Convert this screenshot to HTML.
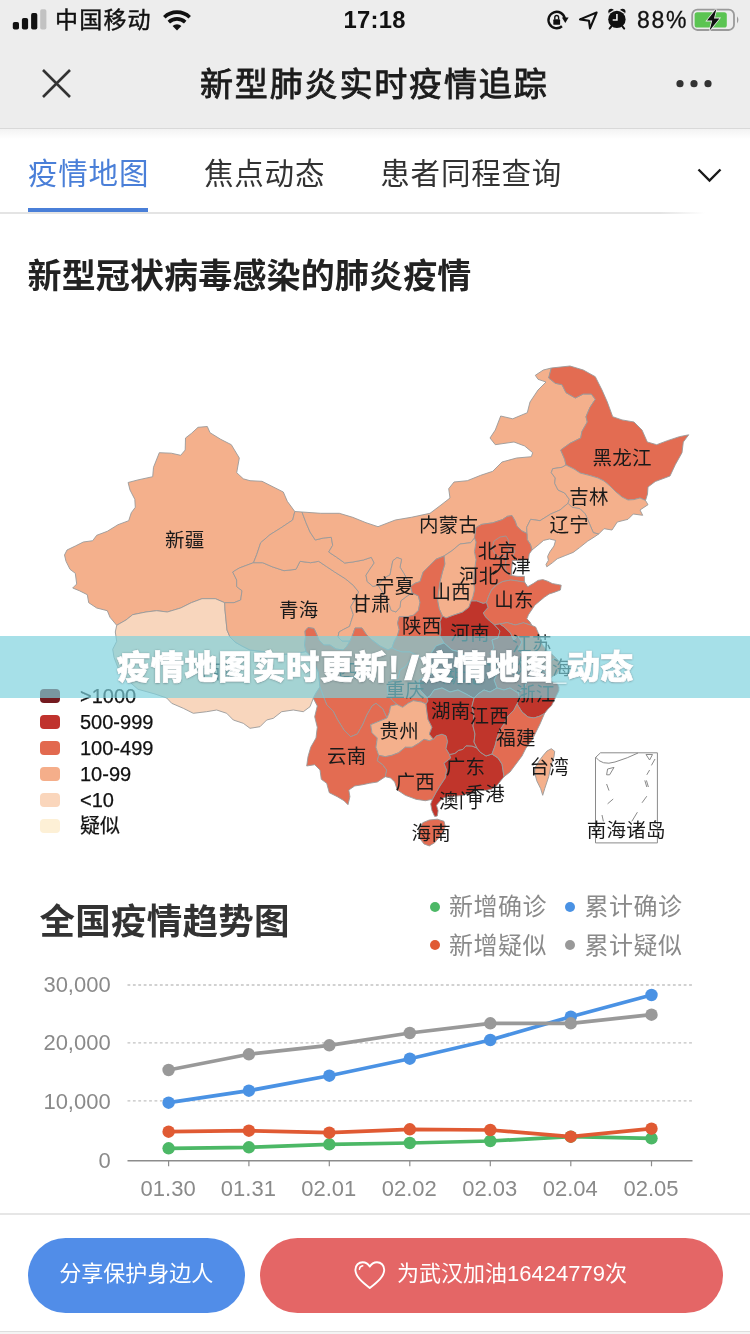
<!DOCTYPE html>
<html lang="zh-CN"><head><meta charset="utf-8"><title>新型肺炎实时疫情追踪</title>
<style>
html,body{margin:0;padding:0;}
body{width:750px;height:1334px;position:relative;overflow:hidden;background:#fff;font-family:"Liberation Sans","Noto Sans CJK SC",sans-serif;color:#222;}
.abs{position:absolute;white-space:nowrap;}
#top{left:0;top:0;width:750px;height:128px;background:#ededed;}
#topline{left:0;top:128px;width:750px;height:1px;background:#d9d9d9;}
#topshadow{left:0;top:129px;width:750px;height:10px;background:linear-gradient(#f3f3f3,#ffffff);}
.sb{font-size:23px;line-height:30px;color:#111;}
#navtitle{left:200px;top:63.3px;font-size:33px;letter-spacing:1.85px;line-height:44px;font-weight:400;-webkit-text-stroke:.9px #1c1c1c;color:#1c1c1c;}
.tab{font-size:29.5px;letter-spacing:.8px;line-height:40px;top:154.3px;color:#333;}
#tabline{left:28px;top:208px;width:120px;height:4px;background:#4a7fd8;}
#sep1{left:0;top:212px;width:750px;height:1.5px;background:linear-gradient(90deg,#e4e4e4 0,#e4e4e4 88%,#fff 94%);}
#h1{left:27.5px;top:251.5px;letter-spacing:.15px;font-size:34px;line-height:48px;font-weight:bold;color:#222;}
#h2{left:39.5px;top:897px;letter-spacing:.25px;font-size:35.5px;line-height:50px;font-weight:bold;color:#333;}
.lg{font-size:20px;line-height:26px;color:#111;left:80px;-webkit-text-stroke:.25px #111;}
.sw{left:40px;width:20px;height:14.5px;border-radius:4px;}
#banner{left:0;top:635.5px;width:750px;height:62.5px;background:rgba(124,209,221,0.68);}
#bantext{left:116.8px;top:637.3px;height:62.5px;line-height:62.5px;font-size:33.3px;font-weight:900;color:#fff;-webkit-text-stroke:.7px #fff;text-shadow:0 0 2px rgba(70,80,90,.55),0 1px 2px rgba(70,80,90,.35);}
.cl{font-size:24px;letter-spacing:.5px;line-height:32px;color:#8a8a8a;}
.dot{width:10px;height:10px;border-radius:5px;}
#sep2{left:0;top:1212.5px;width:750px;height:2px;background:#e6e6e6;}
#sep3{left:0;top:1331px;width:750px;height:3px;background:linear-gradient(#dedede 0,#dedede 34%,#f4f4f4 34%);}
.btn{top:1237.5px;height:75px;border-radius:37.5px;color:#fff;font-size:22px;line-height:72px;}
#b1{left:27.5px;width:217.5px;background:#518de8;text-align:center;}
#b2{left:260px;width:462.5px;background:#e46666;}
svg text{font-family:"Liberation Sans","Noto Sans CJK SC",sans-serif;}
#map text{font-size:19.5px;letter-spacing:.3px;fill:#1a1a1a;text-anchor:middle;}
.ax{font-size:22px;fill:#8a8a8a;}
</style></head><body>
<div id="top" class="abs"></div><div id="topline" class="abs"></div><div id="topshadow" class="abs"></div>

<!-- status bar -->
<svg class="abs" style="left:0;top:0" width="750" height="40" viewBox="0 0 750 40">
 <rect x="12.8" y="22" width="6.2" height="7.6" rx="1.8" fill="#111"/>
 <rect x="21.9" y="18" width="6.2" height="11.6" rx="1.8" fill="#111"/>
 <rect x="31.1" y="13.1" width="6.2" height="16.5" rx="1.8" fill="#111"/>
 <rect x="40.2" y="9.2" width="6.2" height="20.4" rx="1.8" fill="#c2c2c2"/>
 <!-- wifi -->
 <g fill="none" stroke="#111" stroke-width="3.6" stroke-linecap="butt">
  <path d="M164.3 17.2 A18.5 18.5 0 0 1 189.7 17.2"/>
  <path d="M168.8 22.1 A12 12 0 0 1 185.2 22.1"/>
 </g>
 <path d="M177 30.6 L172.6 26 A6.2 6.2 0 0 1 181.4 26 Z" fill="#111"/>
 <!-- rotation lock -->
 <path d="M561.97 26.28 A8.2 8.2 0 1 1 564.78 18.58" fill="none" stroke="#111" stroke-width="2.4"/>
 <path d="M561.9 17.4 L568.6 17.4 L565.3 22.9 Z" fill="#111"/>
 <rect x="553.3" y="19.3" width="6.8" height="5.5" rx="0.9" fill="#111"/>
 <path d="M554.8 19.6 v-2.2 a1.9 1.9 0 0 1 3.8 0 v2.2" fill="none" stroke="#111" stroke-width="1.4"/>
 <!-- location arrow -->
 <path d="M596.6 12.5 L580 19.4 L589 20.8 L590 28.4 Z" fill="none" stroke="#111" stroke-width="2.1" stroke-linejoin="round"/>
 <!-- alarm -->
 <circle cx="611.2" cy="11.6" r="2.9" fill="#111"/><circle cx="622.6" cy="11.6" r="2.9" fill="#111"/>
 <circle cx="616.9" cy="19.4" r="10" fill="#ededed"/>
 <path d="M611.6 26.2 L609.6 28.6 M622.2 26.2 L624.2 28.6" stroke="#111" stroke-width="2" stroke-linecap="round"/>
 <circle cx="616.9" cy="19.4" r="8.7" fill="#111"/>
 <path d="M616.9 14 v6 h-4.2" fill="none" stroke="#ededed" stroke-width="1.6"/>
 <!-- battery -->
 <rect x="692.2" y="9.6" width="41.8" height="20.4" rx="5.2" fill="none" stroke="#9a9a9a" stroke-width="1.8"/>
 <path d="M737 16.2 q2.8 3.7 0 7.4 Z" fill="#9a9a9a"/>
 <rect x="694.6" y="12.2" width="32.2" height="15.3" rx="2.6" fill="#5bc452"/>
 <path d="M716.4 8.8 L707 20.6 L712.2 20.6 L709.6 30.6 L719.4 18.4 L714 18.4 Z" fill="#111" stroke="#ededed" stroke-width="1.6" paint-order="stroke"/>
</svg>
<div class="abs sb" style="left:55px;top:5px;letter-spacing:1.2px;-webkit-text-stroke:.45px #111;">中国移动</div>
<div class="abs sb" style="left:343.5px;top:5px;font-weight:bold;font-size:23.8px;letter-spacing:.25px;">17:18</div>
<div class="abs sb" style="left:637px;top:5px;font-size:23px;letter-spacing:1.7px;-webkit-text-stroke:.3px #111;">88%</div>

<!-- nav -->
<svg class="abs" style="left:0;top:40px" width="750" height="88" viewBox="0 40 750 88">
 <path d="M43 70 L70 97 M70 70 L43 97" stroke="#333" stroke-width="2.6" fill="none"/>
 <circle cx="680" cy="83.7" r="3.6" fill="#333"/><circle cx="694" cy="83.7" r="3.6" fill="#333"/><circle cx="708" cy="83.7" r="3.6" fill="#333"/>
</svg>
<div id="navtitle" class="abs">新型肺炎实时疫情追踪</div>

<!-- tabs -->
<div class="abs tab" style="left:28px;color:#4a7fd8;">疫情地图</div>
<div class="abs tab" style="left:204px;">焦点动态</div>
<div class="abs tab" style="left:380.3px;">患者同程查询</div>
<svg class="abs" style="left:690px;top:160px" width="40" height="30" viewBox="690 160 40 30"><path d="M698.5 169.5 L709.5 180.5 L720.5 169.5" fill="none" stroke="#1a1a1a" stroke-width="2.4"/></svg>
<div id="tabline" class="abs"></div><div id="sep1" class="abs"></div>

<div id="h1" class="abs">新型冠状病毒感染的肺炎疫情</div>

<!-- map -->
<svg id="map" class="abs" style="left:0;top:340px" width="750" height="530" viewBox="0 340 750 530">
<g stroke="#9a9a9a" stroke-width="0.9" stroke-linejoin="round">
<polygon points="116.7,625.3 110.0,617.3 107.3,610.7 96.7,608.0 88.7,602.7 87.3,594.7 79.3,590.7 72.7,588.0 76.7,584.0 75.3,573.3 70.0,569.3 66.0,561.3 64.5,555.0 67.0,550.0 75.3,546.0 83.3,542.0 92.7,540.7 96.7,535.3 107.3,531.3 118.0,524.7 128.7,520.7 131.3,512.7 135.3,507.3 134.8,499.3 130.0,490.0 128.1,482.5 138.0,479.9 152.7,476.7 153.5,467.3 159.3,452.7 171.3,453.2 180.7,455.3 185.2,450.0 185.5,438.0 191.3,433.5 198.0,427.3 207.3,426.5 210.0,432.7 220.7,439.3 231.3,444.7 239.3,458.0 236.7,472.7 243.3,478.8 250.0,480.7 262.0,481.3 283.3,492.0 287.3,501.3 294.8,511.5 292.7,520.0 280.7,528.0 270.0,534.7 260.7,542.7 256.7,554.7 253.5,562.7 239.3,568.0 232.7,572.0 236.7,580.0 236.7,586.7 242.0,590.7 240.7,600.0 234.0,602.7 224.7,602.7 215.3,598.7 202.0,598.7 191.3,602.7 180.7,608.0 167.3,612.0 156.7,610.7 146.0,612.0 132.7,614.7 126.0,620.0" fill="#f4b08c"/>
<polygon points="116.7,625.3 126.0,620.0 132.7,614.7 146.0,612.0 156.7,610.7 167.3,612.0 180.7,608.0 191.3,602.7 202.0,598.7 215.3,598.7 224.7,602.7 225.0,610.0 226.0,620.0 227.0,630.0 230.0,637.0 235.0,642.0 242.0,646.0 250.0,650.0 262.8,651.5 284.4,654.4 298.0,653.0 306.0,651.5 311.0,656.0 315.0,664.0 318.3,672.0 320.0,687.0 316.0,693.0 313.3,698.3 310.0,706.7 303.3,711.7 293.3,710.0 281.7,711.7 273.3,718.3 266.7,720.0 260.0,726.7 250.0,728.3 243.3,723.3 233.3,720.0 226.7,713.3 216.7,710.0 206.7,711.7 193.3,713.3 183.3,708.3 171.7,703.3 166.7,698.0 155.0,694.0 138.0,689.3 126.0,678.7 118.0,668.0 114.0,657.3 112.7,649.3 116.7,641.3 115.3,632.0" fill="#f8d6bd"/>
<polygon points="253.5,562.7 262.7,562.7 272.0,566.7 284.0,570.7 296.0,569.3 300.0,561.3 310.7,562.7 318.7,561.3 326.7,566.7 334.7,572.0 345.3,578.7 353.3,585.3 358.7,592.0 354.7,600.0 350.7,606.7 353.3,614.7 350.7,622.7 349.6,626.4 343.2,629.6 339.0,632.0 338.0,637.0 342.0,641.0 350.0,641.0 347.0,646.0 343.0,650.0 336.0,649.0 330.0,645.0 324.0,645.0 319.0,640.0 316.5,634.0 314.0,628.5 308.0,627.5 305.0,631.0 305.5,637.0 304.5,645.0 306.0,651.5 298.0,653.0 284.4,654.4 262.8,651.5 250.0,650.0 242.0,646.0 235.0,642.0 230.0,637.0 227.0,630.0 226.0,620.0 225.0,610.0 224.7,602.7 234.0,602.7 240.7,600.0 242.0,590.7 236.7,586.7 236.7,580.0 232.7,572.0 239.3,568.0" fill="#f4b08c"/>
<polygon points="294.8,511.5 302.0,512.0 306.0,522.7 310.0,532.0 315.3,540.0 323.3,538.0 331.3,537.3 332.7,545.3 328.7,552.0 336.7,557.3 344.7,563.0 352.7,562.0 363.3,560.0 371.3,557.3 374.2,563.0 370.0,569.0 366.0,575.2 367.2,581.6 373.0,586.5 378.0,585.0 383.0,593.0 386.0,600.0 389.6,605.6 391.2,610.4 396.0,612.0 400.0,607.2 400.8,600.8 407.2,596.0 412.0,592.8 418.4,596.0 420.0,602.4 418.4,610.4 413.6,615.2 407.2,616.8 399.2,616.8 397.6,623.2 399.2,629.6 397.6,635.2 394.0,642.0 392.0,648.0 388.0,650.0 380.0,646.0 372.0,640.0 366.0,634.0 362.0,628.0 355.0,628.0 353.0,634.0 350.0,641.0 342.0,641.0 338.0,637.0 339.0,632.0 343.2,629.6 349.6,626.4 350.7,622.7 353.3,614.7 350.7,606.7 354.7,600.0 358.7,592.0 353.3,585.3 345.3,578.7 334.7,572.0 326.7,566.7 318.7,561.3 310.7,562.7 300.0,561.3 296.0,569.3 284.0,570.7 272.0,566.7 262.7,562.7 253.5,562.7 256.7,554.7 260.7,542.7 270.0,534.7 280.7,528.0 292.7,520.0" fill="#f4b08c"/>
<polygon points="302.0,512.0 320.7,513.3 339.3,513.3 352.7,517.3 366.0,522.7 378.0,526.7 395.3,520.0 411.3,517.3 430.0,513.3 441.0,505.0 450.0,498.0 448.7,488.7 454.0,482.0 467.3,480.7 480.7,475.3 492.7,471.3 502.0,462.0 516.7,458.0 531.3,456.7 532.7,452.7 524.7,446.0 514.0,442.0 495.3,444.7 490.0,438.0 495.3,430.0 500.7,416.0 512.7,418.8 527.3,412.7 530.0,402.0 538.0,390.0 546.0,382.0 538.0,379.3 535.3,375.3 543.3,370.0 551.3,368.0 548.7,378.0 555.3,383.3 562.0,384.7 566.0,392.7 575.3,398.0 583.3,394.0 591.3,394.0 595.3,399.3 590.0,407.3 586.0,416.7 587.3,422.0 582.0,431.3 580.7,438.0 570.0,443.3 560.7,450.0 564.7,459.3 566.0,465.0 562.0,467.3 552.7,468.7 551.3,472.7 555.3,478.0 554.7,483.3 558.0,490.0 564.7,493.0 569.3,499.3 568.0,503.3 560.0,510.0 550.7,514.0 540.0,520.7 530.7,519.3 526.7,527.3 527.0,533.5 521.6,530.8 516.8,526.0 515.2,521.2 512.0,515.6 507.2,516.4 502.4,519.6 492.8,522.8 481.6,524.4 476.0,527.6 474.5,538.0 470.7,542.7 460.0,544.0 452.0,550.7 444.0,556.0 436.0,559.2 429.6,565.6 423.2,572.0 420.0,581.6 415.2,583.2 410.4,586.4 404.0,573.6 400.0,567.2 401.6,559.2 397.0,557.5 392.8,560.8 391.2,568.8 390.0,575.0 384.0,578.0 378.0,585.0 373.0,586.5 367.2,581.6 366.0,575.2 370.0,569.0 374.2,563.0 371.3,557.3 363.3,560.0 352.7,562.0 344.7,563.0 336.7,557.3 328.7,552.0 332.7,545.3 331.3,537.3 323.3,538.0 315.3,540.0 310.0,532.0 306.0,522.7" fill="#f4b08c"/>
<polygon points="551.3,368.0 570.0,366.0 583.3,370.0 595.3,376.7 602.0,390.0 607.3,402.0 612.7,416.7 622.0,419.9 634.0,422.0 642.0,430.0 647.3,442.0 656.7,444.7 667.3,440.7 679.3,436.7 688.7,434.8 683.3,442.0 682.0,452.7 675.3,464.7 670.0,476.0 662.0,479.0 655.3,481.5 648.0,487.0 647.5,494.0 645.5,500.5 640.0,498.0 634.0,499.6 628.0,500.0 622.0,497.0 616.0,492.0 610.0,486.0 604.0,481.0 598.0,478.0 590.0,475.6 580.0,473.0 574.0,469.0 566.0,465.0 564.7,459.3 560.7,450.0 570.0,443.3 580.7,438.0 582.0,431.3 587.3,422.0 586.0,416.7 590.0,407.3 595.3,399.3 591.3,394.0 583.3,394.0 575.3,398.0 566.0,392.7 562.0,384.7 555.3,383.3 548.7,378.0" fill="#e36c52"/>
<polygon points="566.0,465.0 574.0,469.0 580.0,473.0 590.0,475.6 598.0,478.0 604.0,481.0 610.0,486.0 616.0,492.0 622.0,497.0 628.0,500.0 634.0,499.6 640.0,498.0 645.5,500.5 648.0,504.7 640.0,510.0 642.7,515.3 633.3,514.0 628.0,519.3 617.3,522.0 612.0,530.0 604.0,528.7 598.7,534.0 593.3,532.7 589.3,523.3 585.3,514.0 580.0,508.7 572.0,507.3 568.0,503.3 569.3,499.3 564.7,493.0 558.0,490.0 554.7,483.3 555.3,478.0 551.3,472.7 552.7,468.7 562.0,467.3" fill="#f4b08c"/>
<polygon points="598.7,534.0 594.0,537.2 587.6,541.2 579.6,547.6 573.2,552.4 565.2,555.6 557.2,558.8 552.4,562.8 546.8,566.8 546.0,564.4 548.4,560.4 547.6,556.4 550.0,551.6 554.0,546.0 555.6,540.4 549.5,539.0 543.6,540.4 538.0,545.2 532.0,550.0 530.4,544.4 527.2,539.6 527.0,533.5 526.7,527.3 530.7,519.3 540.0,520.7 550.7,514.0 560.0,510.0 568.0,503.3 572.0,507.3 580.0,508.7 585.3,514.0 589.3,523.3 593.3,532.7" fill="#f4b08c"/>
<polygon points="474.5,538.0 476.0,527.6 481.6,524.4 492.8,522.8 502.4,519.6 507.2,516.4 512.0,515.6 515.2,521.2 516.8,526.0 521.6,530.8 527.0,533.5 527.2,539.6 530.4,544.4 532.0,550.0 529.2,554.0 528.4,559.6 520.0,560.4 512.4,560.4 511.6,568.0 511.6,575.6 518.0,576.4 524.4,576.4 524.4,584.4 527.6,586.8 524.4,582.0 518.8,581.2 510.8,580.0 502.8,581.5 496.4,585.0 491.5,590.0 488.5,596.4 486.4,602.6 483.2,603.4 476.8,601.0 471.2,601.0 472.8,597.0 474.4,590.0 473.6,580.4 474.4,570.8 476.0,559.6 474.4,551.6 476.0,542.0" fill="#e36c52"/>
<polygon points="444.0,556.0 452.0,550.7 460.0,544.0 470.7,542.7 474.5,538.0 476.0,542.0 474.4,551.6 476.0,559.6 474.4,570.8 473.6,580.4 474.4,590.0 472.8,597.0 471.2,601.0 468.8,607.4 462.4,612.2 452.8,615.4 446.0,618.0 442.4,616.0 439.2,608.8 437.6,600.8 438.4,592.8 440.0,581.6 442.4,572.0 444.8,564.0" fill="#f4b08c"/>
<polygon points="444.0,556.0 444.8,564.0 442.4,572.0 440.0,581.6 438.4,592.8 437.6,600.8 439.2,608.8 442.4,616.0 440.0,621.6 440.8,629.6 440.0,636.0 444.0,643.0 436.0,646.0 432.0,652.0 428.0,662.0 423.0,660.0 418.0,656.0 410.0,652.0 402.0,652.0 396.0,650.0 392.0,648.0 394.0,642.0 397.6,635.2 399.2,629.6 397.6,623.2 399.2,616.8 407.2,616.8 413.6,615.2 418.4,610.4 420.0,602.4 418.4,596.0 412.0,592.8 410.4,586.4 415.2,583.2 420.0,581.6 423.2,572.0 429.6,565.6 436.0,559.2" fill="#e36c52"/>
<polygon points="378.0,585.0 384.0,578.0 390.0,575.0 391.2,568.8 392.8,560.8 397.0,557.5 401.6,559.2 400.0,567.2 404.0,573.6 410.4,586.4 412.0,592.8 407.2,596.0 400.8,600.8 400.0,607.2 396.0,612.0 391.2,610.4 389.6,605.6 386.0,600.0 383.0,593.0" fill="#f4b08c"/>
<polygon points="527.6,586.8 533.2,583.6 538.0,580.4 542.8,579.6 547.6,581.2 552.4,583.6 557.2,584.4 561.2,585.2 560.4,590.0 554.0,592.4 549.2,594.0 544.4,597.2 539.6,601.2 534.8,605.2 531.6,610.0 528.4,614.8 526.8,618.8 530.0,622.0 531.9,625.5 523.5,622.8 515.2,625.0 507.2,622.6 500.0,623.9 494.4,624.8 489.6,621.0 485.6,617.0 483.2,613.0 488.0,607.4 486.4,602.6 488.5,596.4 491.5,590.0 496.4,585.0 502.8,581.5 510.8,580.0 518.8,581.2 524.4,582.0" fill="#e36c52"/>
<polygon points="442.4,616.0 446.0,618.0 452.8,615.4 462.4,612.2 468.8,607.4 471.2,601.0 476.8,601.0 483.2,603.4 486.4,602.6 488.0,607.4 483.2,613.0 485.6,617.0 489.6,621.0 494.4,624.8 500.0,631.0 498.0,638.0 492.0,640.0 494.0,648.0 490.0,654.0 496.0,660.0 494.0,664.0 484.0,662.0 476.0,664.0 468.0,658.0 460.0,652.0 452.0,650.0 444.0,643.0 440.0,636.0 440.8,629.6 440.0,621.6" fill="#c0352b"/>
<polygon points="494.4,624.8 500.0,623.9 504.8,627.4 510.4,633.0 514.0,640.0 518.0,636.0 522.0,642.0 518.0,650.0 524.0,656.0 520.0,662.0 526.0,666.0 532.0,671.0 528.0,680.0 524.0,688.0 518.0,693.0 510.0,688.0 504.0,690.0 497.0,688.0 494.0,680.0 498.0,672.0 494.0,664.0 496.0,660.0 490.0,654.0 494.0,648.0 492.0,640.0 498.0,638.0 500.0,631.0" fill="#c0352b"/>
<polygon points="531.9,625.5 535.6,627.0 538.0,632.4 539.6,635.6 542.1,644.1 547.7,651.6 553.3,655.3 556.0,658.0 552.0,660.0 548.0,665.0 546.0,673.0 543.0,671.0 538.0,667.0 532.0,671.0 526.0,666.0 520.0,662.0 524.0,656.0 518.0,650.0 522.0,642.0 518.0,636.0 514.0,640.0 510.4,633.0 504.8,627.4 500.0,623.9 507.2,622.6 515.2,625.0 523.5,622.8" fill="#e36c52"/>
<polygon points="556.0,658.0 560.0,662.0 561.0,668.0 557.0,674.0 551.5,677.0 546.0,673.0 548.0,665.0 552.0,660.0" fill="#e36c52"/>
<polygon points="551.5,677.0 549.0,680.0 553.0,682.0 557.0,683.3 559.0,687.0 558.9,690.8 555.2,698.3 551.5,705.7 548.0,709.0 544.5,713.5 540.0,716.0 534.0,718.0 528.0,717.0 522.0,712.0 517.0,704.0 520.0,698.0 518.0,693.0 524.0,688.0 528.0,680.0 532.0,671.0 538.0,667.0 543.0,671.0 546.0,673.0" fill="#c0352b"/>
<polygon points="444.0,643.0 452.0,650.0 460.0,652.0 468.0,658.0 476.0,664.0 484.0,662.0 494.0,664.0 498.0,672.0 494.0,680.0 497.0,688.0 490.0,692.0 484.0,690.0 478.0,694.0 474.0,698.4 466.0,694.0 458.0,690.0 450.0,692.0 442.0,688.0 434.0,690.0 430.0,696.0 427.0,697.7 420.0,690.0 419.0,680.0 428.0,676.0 436.0,671.0 432.0,664.0 428.0,662.0 432.0,652.0 436.0,646.0" fill="#7a1c1c"/>
<polygon points="418.0,656.0 423.0,660.0 428.0,662.0 432.0,664.0 436.0,671.0 428.0,676.0 419.0,680.0 420.0,690.0 427.0,697.7 428.0,701.0 426.0,704.0 421.3,702.0 413.3,700.7 408.0,703.3 402.7,707.3 397.0,704.5 392.0,700.0 388.0,694.0 387.0,686.0 392.0,680.0 398.0,678.0 400.0,670.0 406.0,666.0 410.0,660.0" fill="#e36c52"/>
<polygon points="306.0,651.5 304.5,645.0 305.5,637.0 305.0,631.0 308.0,627.5 314.0,628.5 316.5,634.0 319.0,640.0 324.0,645.0 330.0,645.0 336.0,649.0 343.0,650.0 347.0,646.0 350.0,641.0 353.0,634.0 355.0,628.0 362.0,628.0 366.0,634.0 372.0,640.0 380.0,646.0 388.0,650.0 392.0,648.0 396.0,650.0 402.0,652.0 410.0,652.0 418.0,656.0 410.0,660.0 406.0,666.0 400.0,670.0 398.0,678.0 392.0,680.0 387.0,686.0 388.0,694.0 392.0,700.0 397.0,704.5 390.7,706.0 389.3,712.7 387.0,718.0 382.7,708.7 376.0,703.3 372.0,706.0 366.7,715.3 362.7,724.7 357.3,734.0 350.7,736.7 344.0,730.0 337.3,719.3 333.3,711.3 326.7,704.7 324.0,698.0 320.0,687.0 318.3,672.0 315.0,664.0 311.0,656.0" fill="#e36c52"/>
<polygon points="320.0,687.0 324.0,698.0 326.7,704.7 333.3,711.3 337.3,719.3 344.0,730.0 350.7,736.7 357.3,734.0 362.7,724.7 366.7,715.3 372.0,706.0 376.0,703.3 382.7,708.7 387.0,718.0 377.3,722.0 370.7,724.7 372.0,732.7 377.3,738.0 376.0,747.3 378.7,755.3 377.3,760.7 382.7,764.7 386.7,770.0 385.3,776.7 377.3,782.0 369.3,783.3 362.7,784.7 354.7,786.0 348.8,790.0 349.9,796.7 348.0,804.7 344.0,800.7 337.3,796.7 329.3,792.7 326.7,783.3 321.3,779.3 320.0,770.0 314.7,764.7 306.7,766.0 308.0,756.7 310.7,747.3 316.0,738.0 317.3,727.3 314.7,716.7 317.3,706.0 313.3,698.3 316.0,693.0" fill="#e36c52"/>
<polygon points="387.0,718.0 389.3,712.7 390.7,706.0 397.0,704.5 402.7,707.3 408.0,703.3 413.3,700.7 421.3,702.0 426.0,704.0 426.7,710.0 428.0,719.3 432.0,727.3 429.3,734.0 433.3,739.3 429.3,740.7 424.0,739.3 418.7,743.3 412.0,747.3 405.3,747.3 398.7,752.7 392.0,755.3 385.3,756.7 378.7,755.3 376.0,747.3 377.3,738.0 372.0,732.7 370.7,724.7 377.3,722.0" fill="#f4b08c"/>
<polygon points="378.7,755.3 385.3,756.7 392.0,755.3 398.7,752.7 405.3,747.3 412.0,747.3 418.7,743.3 424.0,739.3 429.3,740.7 433.3,739.3 436.4,735.8 442.0,734.2 446.0,735.8 447.6,741.4 446.0,748.6 449.5,754.5 450.7,758.0 444.0,763.3 446.7,770.0 445.3,778.0 440.0,786.0 436.0,792.7 432.5,799.3 425.3,800.7 416.0,799.3 405.3,795.3 397.3,790.0 394.7,782.0 390.7,778.0 385.3,776.7 386.7,770.0 382.7,764.7 377.3,760.7" fill="#e36c52"/>
<polygon points="449.5,754.5 454.8,753.4 458.8,750.2 462.8,749.4 466.0,745.8 472.0,746.0 477.0,748.0 480.0,752.0 486.0,756.0 492.0,754.0 498.0,758.0 502.0,764.0 503.0,770.0 504.0,776.7 500.5,781.0 497.0,785.5 492.0,789.0 486.0,790.5 478.0,790.0 470.0,793.0 462.0,795.5 456.0,796.0 450.0,796.5 444.0,797.5 440.0,801.0 436.5,805.3 438.1,810.7 437.3,816.0 434.7,816.5 432.0,810.7 430.7,804.0 432.5,799.3 436.0,792.7 440.0,786.0 445.3,778.0 446.7,770.0 444.0,763.3 450.7,758.0" fill="#c0352b"/>
<polygon points="474.0,698.4 466.0,694.0 458.0,690.0 450.0,692.0 442.0,688.0 434.0,690.0 430.0,696.0 427.0,697.7 428.0,701.0 426.0,704.0 426.7,710.0 428.0,719.3 432.0,727.3 429.3,734.0 433.3,739.3 436.4,735.8 442.0,734.2 446.0,735.8 447.6,741.4 446.0,748.6 449.5,754.5 454.8,753.4 458.8,750.2 462.8,749.4 466.0,745.8 472.0,746.0 477.0,748.0 474.0,742.0 475.0,734.0 473.0,726.0 474.0,716.0 472.0,706.0" fill="#c0352b"/>
<polygon points="497.0,688.0 504.0,690.0 510.0,688.0 518.0,693.0 520.0,698.0 517.0,704.0 514.0,710.0 508.0,716.0 504.0,724.0 500.0,730.0 497.0,738.0 495.0,746.0 492.0,754.0 486.0,756.0 480.0,752.0 477.0,748.0 474.0,742.0 475.0,734.0 473.0,726.0 474.0,716.0 472.0,706.0 474.0,698.4 478.0,694.0 484.0,690.0 490.0,692.0" fill="#c0352b"/>
<polygon points="544.5,713.5 540.0,724.0 536.0,732.0 532.0,740.0 526.0,748.0 522.0,756.0 516.0,764.0 510.0,772.0 504.0,776.7 503.0,770.0 502.0,764.0 498.0,758.0 492.0,754.0 495.0,746.0 497.0,738.0 500.0,730.0 504.0,724.0 508.0,716.0 514.0,710.0 517.0,704.0 522.0,712.0 528.0,717.0 534.0,718.0 540.0,716.0" fill="#e36c52"/>
<polygon points="492.0,548.0 494.0,541.0 500.0,537.0 506.0,536.0 509.0,541.0 507.0,547.0 510.0,550.0 506.0,555.0 500.0,557.0 495.0,554.0" fill="#e36c52"/>
<polygon points="507.0,547.0 510.0,550.0 512.0,547.0 515.0,551.0 513.0,556.0 517.0,560.4 512.4,560.4 511.6,568.0 511.6,575.6 508.0,574.0 505.0,568.0 506.0,561.0 505.0,555.0 510.0,550.0" fill="#e36c52"/>
<polygon points="422.7,822.7 429.3,820.0 437.3,819.2 444.0,821.3 445.3,826.7 441.3,834.7 434.7,842.7 429.3,845.9 424.0,844.0 420.0,838.7 418.7,830.7" fill="#e36c52"/>
<polygon points="551.3,748.7 547.0,751.0 543.3,755.3 539.0,761.0 535.3,767.3 534.7,772.7 536.7,780.7 540.7,788.7 542.7,795.3 544.7,788.7 548.7,776.7 551.3,764.7 554.0,756.7 554.7,751.3" fill="#f4b08c"/>
</g>
<g fill="none" stroke="#8a8a8a" stroke-width="1">
 <path d="M595.5 757.5 L600.5 752.8 L657.4 752.8 L657.4 842.9 L595.5 842.9 Z"/>
 <path d="M595.5 757 Q602 766 615 762 T638 753"/>
 <path d="M646 754.5 L652.5 754.5 L649.6 760 Z"/>
 <path d="M607.6 769 L614 767.4 L609.6 774.8 L606.6 774.8 Z"/>
 <path d="M606.6 784 L609 790.6 M613.2 799 L607.6 803.8 M602 815 L603.4 821.4 M637.4 812.2 L631.8 821.4 M646.8 796.2 L642 802.8 M644.8 780.4 L646.8 787 M646.4 780.4 L648.4 787 M649.6 770 L646.8 774.8 M655 759 L651.4 765.4"/>
</g>
<g>
<text x="184.7" y="546.7">新疆</text>
<text x="298.7" y="616.7">青海</text>
<text x="371.0" y="610.7">甘肃</text>
<text x="394.7" y="593.4">宁夏</text>
<text x="448.7" y="532.1">内蒙古</text>
<text x="622.1" y="465.3">黑龙江</text>
<text x="589.0" y="504.4">吉林</text>
<text x="569.3" y="532.1">辽宁</text>
<text x="497.6" y="558.1">北京</text>
<text x="511.3" y="573.4">天津</text>
<text x="478.7" y="583.4">河北</text>
<text x="451.3" y="599.4">山西</text>
<text x="514.0" y="607.2">山东</text>
<text x="421.7" y="633.4">陕西</text>
<text x="470.0" y="640.1">河南</text>
<text x="531.9" y="651.1">江苏</text>
<text x="552.0" y="674.6">上海</text>
<text x="535.7" y="701.1">浙江</text>
<text x="405.2" y="697.4">重庆</text>
<text x="450.7" y="718.1">湖南</text>
<text x="489.4" y="723.4">江西</text>
<text x="516.0" y="745.0">福建</text>
<text x="399.3" y="738.4">贵州</text>
<text x="346.7" y="763.4">云南</text>
<text x="415.3" y="789.1">广西</text>
<text x="465.6" y="774.4">广东</text>
<text x="549.2" y="773.8">台湾</text>
<text x="458.8" y="807.7">澳门</text>
<text x="485.3" y="800.6">香港</text>
<text x="431.3" y="839.8">海南</text>
<text x="221.0" y="678.9">西藏</text>
<text x="358.0" y="678.4">四川</text>
<text x="462.0" y="683.4">湖北</text>
<text x="506.0" y="673.4">安徽</text>
<text x="626.3" y="837.3">南海诸岛</text>
</g>
</svg>

<!-- legend -->
<div class="abs sw" style="top:688.5px;background:#741a1f"></div>
<div class="abs sw" style="top:714.5px;background:#c0322d"></div>
<div class="abs sw" style="top:740.5px;background:#e2694f"></div>
<div class="abs sw" style="top:766.5px;background:#f5ae8a"></div>
<div class="abs sw" style="top:792.5px;background:#fad6bc"></div>
<div class="abs sw" style="top:818.5px;background:#fdf0d6"></div>
<div class="abs lg" style="top:683px">&gt;1000</div>
<div class="abs lg" style="top:709px">500-999</div>
<div class="abs lg" style="top:735px">100-499</div>
<div class="abs lg" style="top:761px">10-99</div>
<div class="abs lg" style="top:787px">&lt;10</div>
<div class="abs lg" style="top:813px">疑似</div>

<!-- banner -->
<div id="banner" class="abs"></div>
<div id="bantext" class="abs"><span style="letter-spacing:.55px">疫情地图实时更新</span><span style="margin-left:.7px">!</span><span style="display:inline-block;margin:0 4px 0 7.8px;transform:scaleX(1.6)">/</span><span style="letter-spacing:-.2px">疫情地图</span><span style="font-size:23px;margin:0 .6px;font-weight:400;opacity:.55;-webkit-text-stroke:0">_</span><span style="letter-spacing:-.2px">动态</span></div>

<!-- chart -->
<div id="h2" class="abs">全国疫情趋势图</div>
<div class="abs dot" style="left:430.2px;top:902.2px;background:#4cb866"></div>
<div class="abs dot" style="left:565px;top:902.2px;background:#4a92e4"></div>
<div class="abs dot" style="left:430.2px;top:940.2px;background:#e05a33"></div>
<div class="abs dot" style="left:565px;top:940.2px;background:#999"></div>
<div class="abs cl" style="left:449px;top:890.5px">新增确诊</div>
<div class="abs cl" style="left:584.5px;top:890.5px">累计确诊</div>
<div class="abs cl" style="left:449px;top:929.5px">新增疑似</div>
<div class="abs cl" style="left:584.5px;top:929.5px">累计疑似</div>
<svg class="abs" style="left:0;top:960px" width="750" height="250" viewBox="0 960 750 250">
<line x1="127.5" y1="985.0" x2="692.5" y2="985.0" stroke="#c2c2c2" stroke-width="1.3" stroke-dasharray="2.8 2.6"/>
<line x1="127.5" y1="1042.8" x2="692.5" y2="1042.8" stroke="#c2c2c2" stroke-width="1.3" stroke-dasharray="2.8 2.6"/>
<line x1="127.5" y1="1100.8" x2="692.5" y2="1100.8" stroke="#c2c2c2" stroke-width="1.3" stroke-dasharray="2.8 2.6"/>
<line x1="127.5" y1="1160.7" x2="692.5" y2="1160.7" stroke="#8c8c8c" stroke-width="1.4"/>
<line x1="168.6" y1="1160.7" x2="168.6" y2="1166.3" stroke="#8c8c8c" stroke-width="1.2"/>
<line x1="248.9" y1="1160.7" x2="248.9" y2="1166.3" stroke="#8c8c8c" stroke-width="1.2"/>
<line x1="329.3" y1="1160.7" x2="329.3" y2="1166.3" stroke="#8c8c8c" stroke-width="1.2"/>
<line x1="409.8" y1="1160.7" x2="409.8" y2="1166.3" stroke="#8c8c8c" stroke-width="1.2"/>
<line x1="490.3" y1="1160.7" x2="490.3" y2="1166.3" stroke="#8c8c8c" stroke-width="1.2"/>
<line x1="570.8" y1="1160.7" x2="570.8" y2="1166.3" stroke="#8c8c8c" stroke-width="1.2"/>
<line x1="651.5" y1="1160.7" x2="651.5" y2="1166.3" stroke="#8c8c8c" stroke-width="1.2"/>
<polyline fill="none" stroke="#4cb866" stroke-width="3.7" stroke-linejoin="round" points="168.6,1148.3 248.9,1147.3 329.3,1144.3 409.8,1143.0 490.3,1141.0 570.8,1136.7 651.5,1138.3"/>
<circle cx="168.6" cy="1148.3" r="6.2" fill="#4cb866"/>
<circle cx="248.9" cy="1147.3" r="6.2" fill="#4cb866"/>
<circle cx="329.3" cy="1144.3" r="6.2" fill="#4cb866"/>
<circle cx="409.8" cy="1143.0" r="6.2" fill="#4cb866"/>
<circle cx="490.3" cy="1141.0" r="6.2" fill="#4cb866"/>
<circle cx="570.8" cy="1136.7" r="6.2" fill="#4cb866"/>
<circle cx="651.5" cy="1138.3" r="6.2" fill="#4cb866"/>
<polyline fill="none" stroke="#4a92e4" stroke-width="3.7" stroke-linejoin="round" points="168.6,1102.7 248.9,1090.7 329.3,1075.7 409.8,1058.7 490.3,1040.0 570.8,1016.7 651.5,995.0"/>
<circle cx="168.6" cy="1102.7" r="6.2" fill="#4a92e4"/>
<circle cx="248.9" cy="1090.7" r="6.2" fill="#4a92e4"/>
<circle cx="329.3" cy="1075.7" r="6.2" fill="#4a92e4"/>
<circle cx="409.8" cy="1058.7" r="6.2" fill="#4a92e4"/>
<circle cx="490.3" cy="1040.0" r="6.2" fill="#4a92e4"/>
<circle cx="570.8" cy="1016.7" r="6.2" fill="#4a92e4"/>
<circle cx="651.5" cy="995.0" r="6.2" fill="#4a92e4"/>
<polyline fill="none" stroke="#e05a33" stroke-width="3.7" stroke-linejoin="round" points="168.6,1131.7 248.9,1130.7 329.3,1132.7 409.8,1129.3 490.3,1130.0 570.8,1136.7 651.5,1128.7"/>
<circle cx="168.6" cy="1131.7" r="6.2" fill="#e05a33"/>
<circle cx="248.9" cy="1130.7" r="6.2" fill="#e05a33"/>
<circle cx="329.3" cy="1132.7" r="6.2" fill="#e05a33"/>
<circle cx="409.8" cy="1129.3" r="6.2" fill="#e05a33"/>
<circle cx="490.3" cy="1130.0" r="6.2" fill="#e05a33"/>
<circle cx="570.8" cy="1136.7" r="6.2" fill="#e05a33"/>
<circle cx="651.5" cy="1128.7" r="6.2" fill="#e05a33"/>
<polyline fill="none" stroke="#999999" stroke-width="3.7" stroke-linejoin="round" points="168.6,1070.0 248.9,1054.3 329.3,1045.3 409.8,1033.0 490.3,1023.3 570.8,1023.3 651.5,1014.7"/>
<circle cx="168.6" cy="1070.0" r="6.2" fill="#999999"/>
<circle cx="248.9" cy="1054.3" r="6.2" fill="#999999"/>
<circle cx="329.3" cy="1045.3" r="6.2" fill="#999999"/>
<circle cx="409.8" cy="1033.0" r="6.2" fill="#999999"/>
<circle cx="490.3" cy="1023.3" r="6.2" fill="#999999"/>
<circle cx="570.8" cy="1023.3" r="6.2" fill="#999999"/>
<circle cx="651.5" cy="1014.7" r="6.2" fill="#999999"/>
<text x="110.7" y="992.0" text-anchor="end" class="ax">30,000</text>
<text x="110.7" y="1050.3" text-anchor="end" class="ax">20,000</text>
<text x="110.7" y="1108.7" text-anchor="end" class="ax">10,000</text>
<text x="110.7" y="1167.7" text-anchor="end" class="ax">0</text>
<text x="168.1" y="1196" text-anchor="middle" class="ax">01.30</text>
<text x="248.4" y="1196" text-anchor="middle" class="ax">01.31</text>
<text x="328.8" y="1196" text-anchor="middle" class="ax">02.01</text>
<text x="409.3" y="1196" text-anchor="middle" class="ax">02.02</text>
<text x="489.8" y="1196" text-anchor="middle" class="ax">02.03</text>
<text x="570.3" y="1196" text-anchor="middle" class="ax">02.04</text>
<text x="651.0" y="1196" text-anchor="middle" class="ax">02.05</text>
</svg>

<!-- bottom -->
<div id="sep2" class="abs"></div>
<div id="b1" class="abs btn">分享保护身边人</div>
<div id="b2" class="abs btn"><span style="position:absolute;left:137px;top:0">为武汉加油16424779次</span></div>
<svg class="abs" style="left:350px;top:1255px" width="40" height="40" viewBox="350 1255 40 40">
 <path d="M369.8 1288 C362 1282 355.4 1276.5 355.4 1269.8 C355.4 1265.2 358.8 1262.2 362.6 1262.2 C365.6 1262.2 368.2 1263.8 369.8 1266.6 C371.4 1263.8 374 1262.2 377 1262.2 C380.8 1262.2 384.2 1265.2 384.2 1269.8 C384.2 1276.5 377.6 1282 369.8 1288 Z" fill="none" stroke="#fff" stroke-width="1.9" stroke-linejoin="round"/>
 <path d="M359.4 1269.4 A4 4 0 0 1 362.8 1265.8" fill="none" stroke="#fff" stroke-width="1.4" stroke-linecap="round"/>
</svg>
<div id="sep3" class="abs"></div>
</body></html>
